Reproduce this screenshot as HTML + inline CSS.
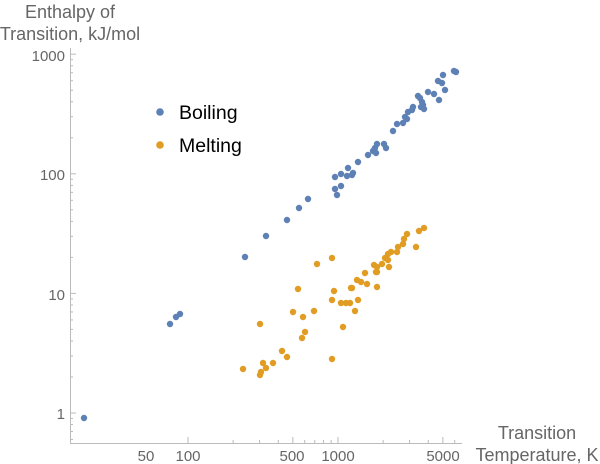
<!DOCTYPE html><html><head><style>body{margin:0;background:#fff}svg{display:block}</style></head><body>
<svg id="s" width="600" height="464" xmlns="http://www.w3.org/2000/svg" font-family="Liberation Sans, sans-serif">
<g fill="#666" font-size="18">
<text x="70" y="18" text-anchor="middle">Enthalpy of</text>
<text x="70" y="40" text-anchor="middle">Transition, kJ/mol</text>
<text x="537" y="439" text-anchor="middle">Transition</text>
<text x="537" y="461" text-anchor="middle">Temperature, K</text>
</g>
<g fill="#666" font-size="15">
<text x="65" y="61" text-anchor="end">1000</text>
<text x="65" y="180" text-anchor="end">100</text>
<text x="65" y="300" text-anchor="end">10</text>
<text x="65" y="419" text-anchor="end">1</text>
<text x="146" y="461" text-anchor="middle">50</text>
<text x="188" y="461" text-anchor="middle">100</text>
<text x="292" y="461" text-anchor="middle">500</text>
<text x="338" y="461" text-anchor="middle">1000</text>
<text x="443" y="461" text-anchor="middle">5000</text>
</g>
<g stroke="#bbb" stroke-width="1" id="ax">
<line x1="70.5" y1="48" x2="70.5" y2="443"/>
<line x1="70" y1="443.5" x2="462" y2="443.5"/>
</g>
<circle cx="160" cy="112" r="3.8" fill="#5e81b5"/>
<text x="179" y="119" font-size="19.5">Boiling</text>
<circle cx="160" cy="145" r="3.8" fill="#e19c24"/>
<text x="179" y="152" font-size="19.5">Melting</text>
<g id="d"></g>
</svg>
<script>
var ns="http://www.w3.org/2000/svg",ax=document.getElementById('ax'),d=document.getElementById('d');
function ln(a,b,c,e){var l=document.createElementNS(ns,'line');l.setAttribute('x1',a);l.setAttribute('y1',b);l.setAttribute('x2',c);l.setAttribute('y2',e);ax.appendChild(l);}
for(var dec=0;dec<4;dec++)for(var m=1;m<10;m++){var y=413-119.6*(dec+Math.log10(m));if(y<48||y>443)continue;ln(70,y,m==1?76:73,y);}
for(var m=2;m<10;m++){var y=413+119.6*(1-Math.log10(m));if(y<443)ln(70,y,73,y);}
for(var dec=1;dec<4;dec++)for(var m=1;m<10;m++){var x=38+150*(dec+Math.log10(m));if(x<70||x>462)continue;ln(x,443,x,m==1||m==5?437:440);}
var B=[[84,418],[170,324],[176,317],[180,314],[245,257],[266,236],[287,220],[299,208],[308,199],[337,195],[335,189],[341,186],[335,177],[341,174],[347,176],[352,175],[353,173],[348,168],[358,162],[368,155],[376,153],[373,151],[375,148],[386,148],[377,144],[384,144],[393,131],[397,124],[403,123],[407,119],[405,117],[408,112],[412,110],[413,107],[424,109],[421,107],[423,105],[422,102],[420,98],[418,96],[434,94],[428,92],[439,100],[445,90],[442,83],[438,81],[443,75],[454,71],[456,72]];
var O=[[424,228],[419,231],[407,234],[404,239],[403,244],[398,247],[416,247],[397,252],[391,252],[388,254],[385,258],[388,260],[389,267],[382,264],[374,265],[377,267],[376,272],[377,272],[365,273],[357,280],[361,282],[367,284],[377,287],[332,258],[317,264],[298,289],[334,291],[351,288],[352,288],[332,300],[341,303],[346,303],[350,303],[358,300],[355,311],[293,312],[314,311],[303,317],[260,324],[343,327],[305,332],[302,338],[282,351],[287,357],[332,359],[243,369],[263,363],[273,363],[266,368],[261,372],[260,375]];
function dot(p,c){var e=document.createElementNS(ns,'circle');e.setAttribute('cx',p[0]);e.setAttribute('cy',p[1]);e.setAttribute('r',3.2);e.setAttribute('fill',c);d.appendChild(e);}
B.forEach(function(p){dot(p,'#5e81b5')});O.forEach(function(p){dot(p,'#e19c24')});
</script>
</body></html>
